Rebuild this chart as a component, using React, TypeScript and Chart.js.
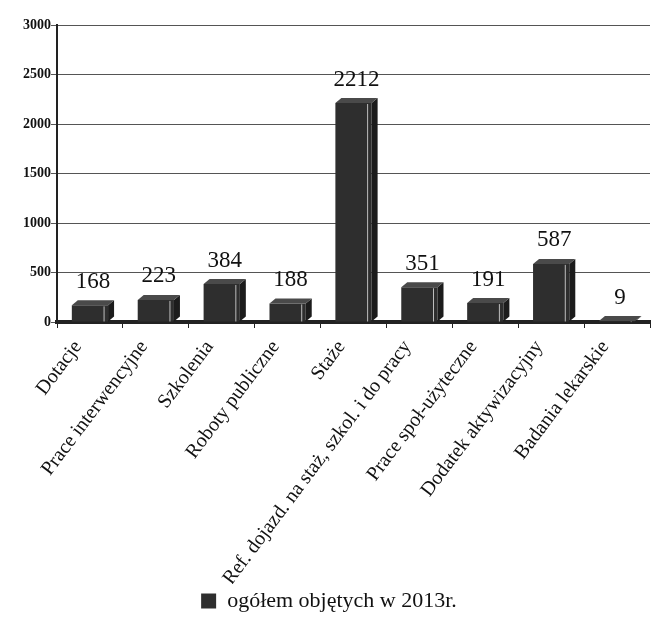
import React, { useEffect, useRef } from "react";
import { Chart, registerables } from "chart.js";

Chart.register(...registerables);

const categories = [
  "Dotacje",
  "Prace interwencyjne",
  "Szkolenia",
  "Roboty publiczne",
  "Staże",
  "Ref. dojazd. na staż, szkol. i do pracy",
  "Prace społ-użyteczne",
  "Dodatek aktywizacyjny",
  "Badania lekarskie",
];
const values = [168, 223, 384, 188, 2212, 351, 191, 587, 9];
const seriesLabel = "ogółem objętych w 2013r.";
const yMin = 0;
const yMax = 3000;
const yStep = 500;

const SERIF = "'Liberation Serif', 'Times New Roman', serif";

const bar3d = {
  id: "bar3d",
  afterDatasetsDraw(chart: any) {
    const ctx = chart.ctx;
    const meta = chart.getDatasetMeta(0);
    const dx = 6;
    const dy = 5;
    ctx.save();
    meta.data.forEach((el: any, i: number) => {
      const { x, y, base, width } = el.getProps(["x", "y", "base", "width"], true);
      const l = x - width / 2;
      const r = x + width / 2;
      // side face
      ctx.fillStyle = "#1c1c1c";
      ctx.beginPath();
      ctx.moveTo(r, y);
      ctx.lineTo(r + dx, y - dy);
      ctx.lineTo(r + dx, base - dy);
      ctx.lineTo(r, base);
      ctx.closePath();
      ctx.fill();
      // top face
      ctx.fillStyle = "#4a4a4a";
      ctx.beginPath();
      ctx.moveTo(l, y);
      ctx.lineTo(l + dx, y - dy);
      ctx.lineTo(r + dx, y - dy);
      ctx.lineTo(r, y);
      ctx.closePath();
      ctx.fill();
      // light edge stripe
      ctx.strokeStyle = "#bdbdbd";
      ctx.lineWidth = 1;
      ctx.beginPath();
      ctx.moveTo(r - 4, y + 1);
      ctx.lineTo(r - 4, base);
      ctx.stroke();
      // value label
      ctx.fillStyle = "#111";
      ctx.font = `23px ${SERIF}`;
      ctx.textAlign = "center";
      ctx.textBaseline = "bottom";
      ctx.fillText(String(values[i]), x + dx / 2, y - dy - 7);
    });
    ctx.restore();
  },
};

export default function App() {
  const ref = useRef<HTMLCanvasElement | null>(null);
  useEffect(() => {
    if (!ref.current) return;
    const chart = new Chart(ref.current, {
      type: "bar",
      data: {
        labels: categories,
        datasets: [
          {
            label: seriesLabel,
            data: values,
            backgroundColor: "#2e2e2e",
            borderColor: "#2e2e2e",
            borderWidth: 0,
            barPercentage: 0.55,
            categoryPercentage: 1,
          },
        ],
      },
      options: {
        animation: false,
        responsive: false,
        maintainAspectRatio: false,
        layout: { padding: { top: 17, right: 2, left: 0, bottom: 0 } },
        plugins: {
          tooltip: { enabled: false },
          legend: {
            position: "bottom",
            labels: {
              color: "#111",
              font: { family: SERIF, size: 22 },
              boxWidth: 15,
              boxHeight: 15,
              padding: 6,
            },
          },
        },
        scales: {
          x: {
            grid: {
              offset: true,
              drawOnChartArea: false,
              drawTicks: true,
              tickLength: 6,
              color: "#222",
            },
            border: { color: "#222", width: 4 },
            ticks: {
              color: "#111",
              font: { family: SERIF, size: 20 },
              minRotation: 53,
              maxRotation: 53,
              padding: 8,
              labelOffset: -12,
              autoSkip: false,
            },
            afterFit: (scale: any) => {
              scale.height = 262;
            },
          },
          y: {
            min: yMin,
            max: yMax,
            ticks: {
              stepSize: yStep,
              color: "#111",
              font: { family: SERIF, size: 14, weight: "bold" },
              padding: 0,
              callback: (v: any) => String(v),
            },
            grid: { color: "#555", lineWidth: 1, tickLength: 6 },
            border: { color: "#222", width: 2 },
            afterFit: (scale: any) => {
              scale.width = 49;
            },
          },
        },
      },
      plugins: [bar3d],
    });
    return () => chart.destroy();
  }, []);
  return (
    <div style={{ width: 644, height: 614 }}>
      <canvas ref={ref} width={644} height={614} style={{ width: 644, height: 614 }} />
    </div>
  );
}
